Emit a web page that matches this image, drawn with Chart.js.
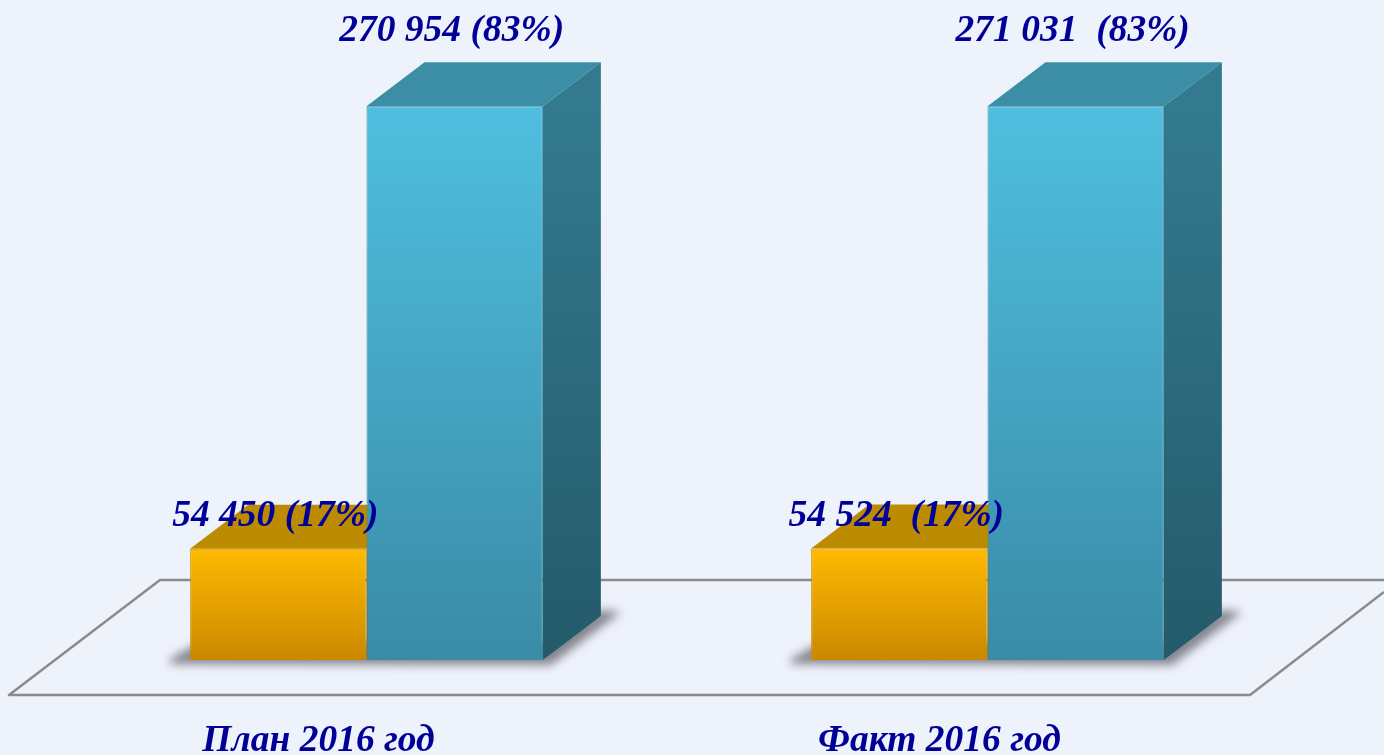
<!DOCTYPE html>
<html lang="ru">
<head>
<meta charset="utf-8">
<style>html,body{margin:0;padding:0;background:#eef2fb;overflow:hidden}canvas{display:block}</style>
<script src="https://cdn.jsdelivr.net/npm/chart.js@4"></script>
</head>
<body>
<canvas id="c" width="1384" height="755"></canvas>
<script>
const categories = ["План 2016 год", "Факт 2016 год"];
const orangeValues = [54450, 54524];
const blueValues = [270954, 271031];
const orangeLabels = ["54 450 (17%)", "54 524  (17%)"];
const blueLabels = ["270 954 (83%)", "271 031  (83%)"];

const DEPTH_X = 58, DEPTH_Y = 44;
const FONT = "italic bold 37.5px 'Liberation Serif', serif";
const INK = "#000099";

function vGrad(ctx, y0, y1, c0, c1) {
  const g = ctx.createLinearGradient(0, y0, 0, y1);
  g.addColorStop(0, c0); g.addColorStop(1, c1);
  return g;
}
function poly(ctx, pts, fill) {
  ctx.beginPath();
  pts.forEach((p, i) => i ? ctx.lineTo(p[0], p[1]) : ctx.moveTo(p[0], p[1]));
  ctx.closePath();
  ctx.fillStyle = fill;
  ctx.fill();
}
const frontFill = (top, bottom) => c => {
  const a = c.chart.chartArea;
  if (!a) return top;
  const y0 = c.chart.scales.y.getPixelForValue(c.raw);
  return vGrad(c.chart.ctx, y0, a.bottom, top, bottom);
};

const faces3d = {
  id: "faces3d",
  beforeDatasetsDraw(chart) {
    const { ctx, chartArea: a } = chart;
    ctx.save();
    // floor plate
    ctx.strokeStyle = "#8b8b8b";
    ctx.lineWidth = 2.5;
    ctx.lineJoin = "round";
    const fy = a.bottom + 35, by = a.bottom - 80;
    ctx.beginPath();
    ctx.moveTo(a.right + 86, by);
    ctx.lineTo(a.left + 104, by);
    ctx.lineTo(a.left - 47, fy);
    ctx.lineTo(a.right - 48, fy);
    ctx.lineTo(a.right + 86, fy - 103);
    ctx.stroke();

    const oMeta = chart.getDatasetMeta(0), bMeta = chart.getDatasetMeta(1);
    // soft contact shadows
    categories.forEach((_, i) => {
      const o = oMeta.data[i], b = bMeta.data[i];
      const ol = o.x - o.width / 2, br = b.x + b.width / 2, y = a.bottom;
      ctx.save();
      ctx.filter = "blur(5px)";
      poly(ctx, [[ol - 20, y - 1], [ol + 10, y - 18], [br, y - 18], [br + DEPTH_X, y - DEPTH_Y - 6],
                 [br + DEPTH_X + 20, y - DEPTH_Y - 4], [br + 8, y + 5], [ol - 20, y + 4]], "#83848e");
      ctx.restore();
    });
    // top and side faces
    [[oMeta, "#bd8b00", "#a87c00", "#8f6a00"], [bMeta, "#3b8ea6", "#337a8e", "#245a6a"]].forEach(([meta, top, s0, s1]) => {
      meta.data.forEach(el => {
        const l = el.x - el.width / 2, r = el.x + el.width / 2, t = el.y, bot = el.base;
        poly(ctx, [[l, t], [l + DEPTH_X, t - DEPTH_Y], [r + DEPTH_X, t - DEPTH_Y], [r, t]], top);
        poly(ctx, [[r, t], [r + DEPTH_X, t - DEPTH_Y], [r + DEPTH_X, bot - DEPTH_Y], [r, bot]],
             vGrad(ctx, t, bot, s0, s1));
      });
    });
    ctx.restore();
  },
  afterDatasetsDraw(chart) {
    const { ctx } = chart;
    ctx.save();
    ctx.font = FONT;
    ctx.fillStyle = INK;
    ctx.textAlign = "center";
    ctx.textBaseline = "middle";
    [[0, orangeLabels, 32], [1, blueLabels, 75]].forEach(([d, texts, lift]) => {
      chart.getDatasetMeta(d).data.forEach((el, i) => {
        ctx.fillText(texts[i], el.x - 3, el.y - lift);
      });
    });
    ctx.restore();
  }
};

new Chart(document.getElementById("c"), {
  type: "bar",
  plugins: [faces3d],
  data: {
    labels: categories,
    datasets: [
      { data: orangeValues, backgroundColor: frontFill("#ffba00", "#c98800"), borderColor: "#cf9200", borderWidth: 1 },
      { data: blueValues, backgroundColor: frontFill("#4fbfdf", "#3a8ba6"), borderColor: "#3a86a0", borderWidth: 1 }
    ]
  },
  options: {
    responsive: false,
    animation: false,
    layout: { padding: { left: 56, right: 86, top: 47, bottom: 0 } },
    plugins: { legend: { display: false }, tooltip: { enabled: false } },
    datasets: { bar: { categoryPercentage: 0.568, barPercentage: 1 } },
    scales: {
      x: {
        grid: { display: false },
        border: { display: false },
        afterFit(s) { s.height = 95; },
        ticks: { color: INK, font: { family: "'Liberation Serif', serif", size: 37.5, style: "italic", weight: "bold" },
                 padding: 51, labelOffset: -48, maxRotation: 0, autoSkip: false }
      },
      y: { display: false, min: 0, max: 300000 }
    }
  }
});
</script>
</body>
</html>
